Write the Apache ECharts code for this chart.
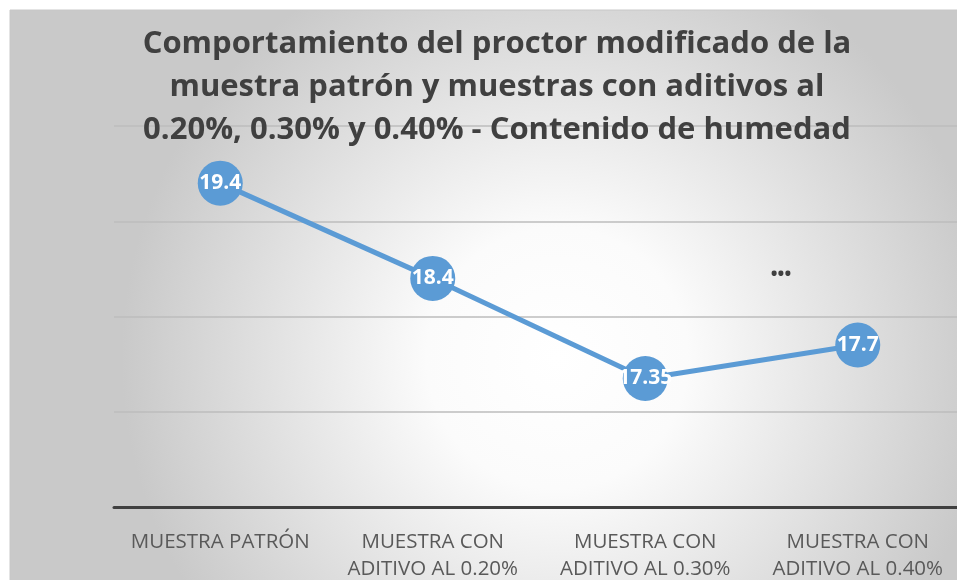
<!DOCTYPE html>
<html style="height: 100%">
<head>
  <meta charset="utf-8">
  <title>demo</title>
</head>
<body style="height: 100%; margin: 0; background: #fff">
<div id="container" style="height: 580px; width: 957px"></div>
<script src="https://cdn.jsdelivr.net/npm/echarts@6/dist/echarts.min.js"></script>
<script type="text/javascript">
  var categories = ['MUESTRA PATRÓN', 'MUESTRA CON ADITIVO AL 0.20%', 'MUESTRA CON ADITIVO AL 0.30%', 'MUESTRA CON ADITIVO AL 0.40%'];
  var humedad = [19.4, 18.4, 17.35, 17.7];
  var yTicks = { min: 16, max: 20, interval: 1 };
  var titleText = 'Comportamiento del proctor modificado de la\nmuestra patrón y muestras con aditivos al\n0.20%, 0.30% y 0.40% - Contenido de humedad';

  var dom = document.getElementById('container');
  var myChart = echarts.init(dom);
  var font = '"Open Sans", sans-serif';

  var option = {
    animation: false,
    graphic: [
      {
        type: 'rect',
        z: -10,
        shape: { x: 10, y: 10, width: 960, height: 580 },
        style: {
          fill: new echarts.graphic.RadialGradient(0.57, 0.6, 0.75, [
            { offset: 0, color: '#ffffff' },
            { offset: 0.3, color: '#fbfbfb' },
            { offset: 1, color: '#c9c9c9' }
          ]),
          stroke: '#c8c8c8',
          lineWidth: 1
        }
      },
      {
        type: 'text',
        x: 781,
        y: 275,
        style: {
          text: '•••',
          fill: '#404040',
          font: 'bold 18px ' + font,
          align: 'center',
          verticalAlign: 'middle'
        }
      }
    ],
    title: {
      text: titleText,
      left: 492,
      top: 18,
      textAlign: 'center',
      textStyle: {
        fontFamily: font,
        fontWeight: 'bold',
        fontSize: 31,
        lineHeight: 43,
        color: '#404040'
      }
    },
    grid: { left: 114, right: -7, top: 126, bottom: 73, outerBoundsMode: 'none', containLabel: false },
    xAxis: {
      type: 'category',
      data: categories,
      boundaryGap: true,
      axisLine: { lineStyle: { color: '#404040', width: 3 } },
      axisTick: { show: false },
      axisLabel: {
        interval: 0,
        margin: 22,
        fontFamily: font,
        fontSize: 20.5,
        lineHeight: 27,
        color: '#595959',
        formatter: function (v) { return v.replace(' ADITIVO', '\nADITIVO'); }
      }
    },
    yAxis: {
      type: 'value',
      min: yTicks.min,
      max: yTicks.max,
      interval: yTicks.interval,
      axisLine: { show: false },
      axisTick: { show: false },
      axisLabel: { show: false },
      splitLine: { lineStyle: { color: '#bdbdbd', width: 1.5 } }
    },
    series: [
      {
        type: 'line',
        data: humedad,
        symbol: 'circle',
        symbolSize: 45,
        lineStyle: { color: '#5b9bd5', width: 5 },
        itemStyle: { color: '#5b9bd5' },
        label: {
          show: true,
          position: 'inside',
          color: '#ffffff',
          fontFamily: font,
          fontWeight: 'bold',
          fontSize: 21
        }
      }
    ]
  };

  myChart.setOption(option);
</script>
</body>
</html>
